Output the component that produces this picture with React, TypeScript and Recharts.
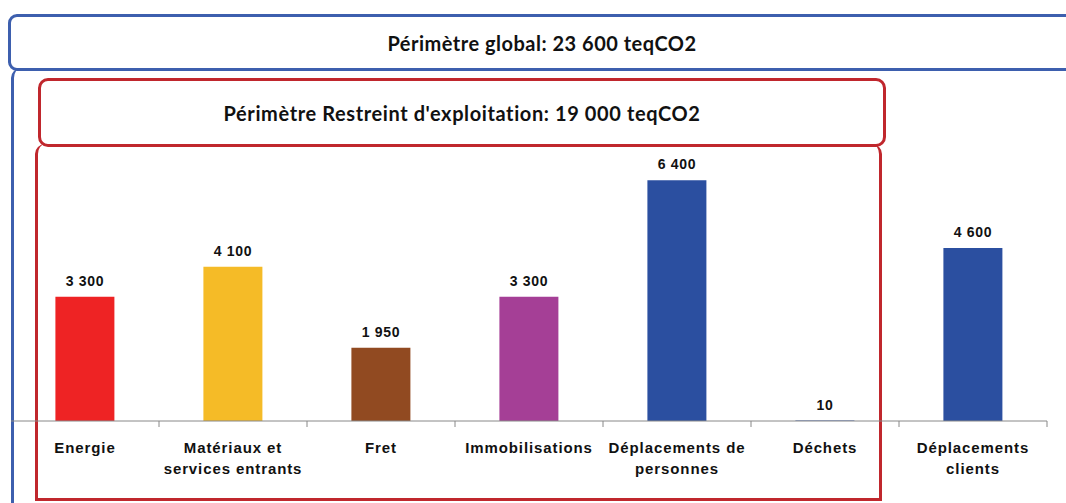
import React from "react";
import { BarChart, Bar, XAxis, YAxis, Cell, LabelList } from "recharts";

const categories = [
  "Energie",
  "Matériaux et\nservices entrants",
  "Fret",
  "Immobilisations",
  "Déplacements de\npersonnes",
  "Déchets",
  "Déplacements\nclients",
];
const values = [3300, 4100, 1950, 3300, 6400, 10, 4600];
const barColors = ["#ee2324", "#f5bb27", "#914a21", "#a53f96", "#2b4fa0", "#2b4fa0", "#2b4fa0"];

const globalTitle = "Périmètre global: 23 600 teqCO2";
const restrictedTitle = "Périmètre Restreint d'exploitation: 19 000 teqCO2";

const data = categories.map((name, i) => ({ name, value: values[i], color: barColors[i] }));

const W = 1066;
const H = 503;
const MARGIN = { top: 120, right: 19, left: 11, bottom: 0 };
const STEP = (W - MARGIN.left - MARGIN.right) / categories.length;

const BLUE = "#3d5fae";
const RED = "#c0272d";
const labelFont = "'Liberation Sans', Arial, sans-serif";
const titleFont = "Lato, 'Open Sans', sans-serif";

// nombre avec espace comme séparateur des milliers
const fmt = (v: number) => String(v).replace(/\B(?=(\d{3})+(?!\d))/g, " ");

const CategoryTick = (props: any) => {
  const { x, y, payload } = props;
  const lines = String(payload.value).split("\n");
  return (
    <g>
      <line x1={x + STEP / 2} y1={y - 8} x2={x + STEP / 2} y2={y - 2} stroke="#888" />
      <text
        x={x}
        y={y + 24}
        textAnchor="middle"
        fontFamily={labelFont}
        fontWeight="bold"
        fontSize={15}
        letterSpacing={0.9}
        fill="#111"
      >
        {lines.map((l, i) => (
          <tspan key={i} x={x} dy={i === 0 ? 0 : 21}>
            {l}
          </tspan>
        ))}
      </text>
    </g>
  );
};

export default function App() {
  return (
    <div style={{ position: "absolute", left: 0, top: 0, width: W, height: H, background: "#fff", overflow: "hidden" }}>
      {/* cadre global (bleu) */}
      <div
        style={{
          position: "absolute",
          left: 8,
          top: 14,
          width: 1080,
          height: 51,
          border: `3px solid ${BLUE}`,
          borderRadius: 9,
          display: "flex",
          alignItems: "center",
        }}
      >
        <div
          style={{
            position: "absolute",
            left: 0,
            width: 1062,
            textAlign: "center",
            fontFamily: titleFont,
            fontWeight: 700,
            fontSize: 20,
            letterSpacing: 0.5,
            color: "#111",
          }}
        >
          {globalTitle}
        </div>
      </div>
      <div
        style={{
          position: "absolute",
          left: 11,
          top: 68,
          width: 12,
          height: 450,
          borderLeft: `3px solid ${BLUE}`,
          borderTopLeftRadius: 10,
        }}
      />

      {/* périmètre restreint (rouge) */}
      <div
        style={{
          position: "absolute",
          left: 38,
          top: 78,
          width: 842,
          height: 63,
          border: `3px solid ${RED}`,
          borderRadius: 10,
          display: "flex",
          alignItems: "center",
          justifyContent: "center",
          fontFamily: titleFont,
          fontWeight: 700,
          fontSize: 20,
          letterSpacing: 0.6,
          color: "#111",
        }}
      >
        {restrictedTitle}
      </div>
      <div
        style={{
          position: "absolute",
          left: 35,
          top: 144,
          width: 841,
          height: 354,
          borderLeft: `3px solid ${RED}`,
          borderRight: `3px solid ${RED}`,
          borderBottom: `3px solid ${RED}`,
          borderTopLeftRadius: 10,
          borderTopRightRadius: 10,
        }}
      />

      <div style={{ position: "absolute", left: 0, top: 0 }}>
        <BarChart width={W} height={H} data={data} margin={MARGIN} barCategoryGap="30%">
          <XAxis
            dataKey="name"
            height={82}
            interval={0}
            tickLine={false}
            axisLine={{ stroke: "#888" }}
            tick={<CategoryTick />}
          />
          <YAxis hide domain={[0, 8000]} />
          <Bar dataKey="value" isAnimationActive={false}>
            {data.map((d, i) => (
              <Cell key={i} fill={d.color} />
            ))}
            <LabelList
              dataKey="value"
              position="top"
              offset={11}
              formatter={(v: any) => fmt(Number(v))}
              style={{ fontFamily: labelFont, fontWeight: "bold", fontSize: 14, letterSpacing: 0.7, fill: "#111" }}
            />
          </Bar>
        </BarChart>
      </div>
    </div>
  );
}
